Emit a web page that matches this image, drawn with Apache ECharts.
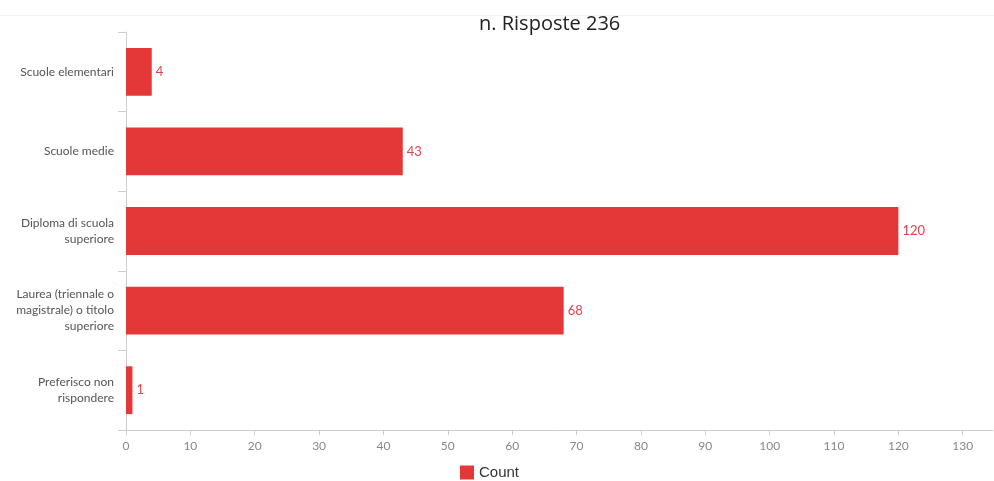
<!DOCTYPE html>
<html>
<head>
<meta charset="utf-8">
<script src="https://cdn.jsdelivr.net/npm/echarts@6/dist/echarts.min.js"></script>
<style>
  html, body { margin: 0; padding: 0; background: #fff; }
  #chart { width: 994px; height: 481px; }
</style>
</head>
<body>
<div id="chart"></div>
<script>
// Education level of respondents
const titleText = 'n. Risposte 236';
const categories = [
  'Scuole elementari',
  'Scuole medie',
  'Diploma di scuola\nsuperiore',
  'Laurea (triennale o\nmagistrale) o titolo\nsuperiore',
  'Preferisco non\nrispondere'
];
const seriesName = 'Count';
const counts = [4, 43, 120, 68, 1];

const barColor = '#e43838';

const chart = echarts.init(document.getElementById('chart'));
chart.setOption({
  animation: false,
  backgroundColor: '#ffffff',
  graphic: [{
    type: 'line',
    shape: { x1: 0, y1: 15.5, x2: 994, y2: 15.5 },
    style: { stroke: '#f2f2f2', lineWidth: 1 },
    silent: true
  }],
  title: {
    text: titleText,
    left: 474,
    top: 9,
    textStyle: {
      fontFamily: 'Open Sans',
      fontSize: 20,
      fontWeight: 'normal',
      color: '#222'
    }
  },
  legend: {
    top: 465,
    left: 460,
    padding: 0,
    itemWidth: 14,
    itemHeight: 14,
    itemGap: 8,
    icon: 'rect',
    textStyle: { fontFamily: 'Liberation Sans', fontSize: 15, color: '#333' },
    data: [seriesName]
  },
  grid: {
    left: 126,
    right: 1,
    top: 32,
    bottom: 51,
    containLabel: false
  },
  xAxis: {
    type: 'value',
    min: 0,
    max: 134.7,
    interval: 10,
    splitLine: { show: false },
    axisLine: { show: true, lineStyle: { color: '#cccccc', width: 1 } },
    axisTick: { show: true, length: 5, lineStyle: { color: '#cccccc' } },
    axisLabel: {
      showMaxLabel: false,
      color: '#888',
      fontFamily: 'Lato',
      fontSize: 12,
      margin: 10
    }
  },
  yAxis: {
    type: 'category',
    inverse: true,
    data: categories,
    axisLine: { show: true, lineStyle: { color: '#cccccc', width: 1 } },
    axisTick: { show: true, length: 8, lineStyle: { color: '#cccccc' } },
    axisLabel: {
      color: '#555',
      fontFamily: 'Lato',
      fontSize: 12,
      lineHeight: 16,
      margin: 12,
      align: 'right'
    }
  },
  series: [{
    name: seriesName,
    type: 'bar',
    data: counts,
    barWidth: '60%',
    itemStyle: { color: barColor },
    label: {
      show: true,
      position: 'right',
      distance: 4,
      color: '#e6404c',
      fontFamily: 'Lato',
      fontSize: 13
    }
  }]
});
</script>
</body>
</html>
